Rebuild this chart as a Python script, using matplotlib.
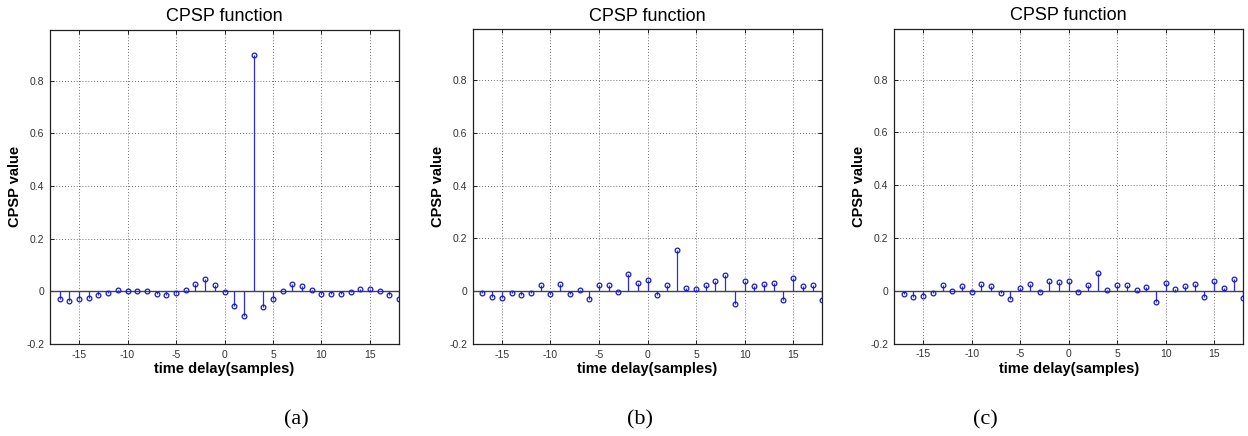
import numpy as np
import matplotlib
matplotlib.use("Agg")
import matplotlib.pyplot as plt

plt.rcParams['font.family'] = ['Liberation Sans', 'DejaVu Sans']
plt.rcParams['axes.unicode_minus'] = False

lags = list(range(-17, 19))

cpsp_a = [-0.028, -0.036, -0.028, -0.024, -0.013, -0.005, 0.005, 0.0, 0.003, 0.0,
          -0.011, -0.015, -0.008, 0.005, 0.027, 0.047, 0.025, -0.004, -0.055, -0.093,
          0.897, -0.060, -0.030, 0.001, 0.027, 0.020, 0.005, -0.009, -0.011, -0.011,
          -0.001, 0.008, 0.010, 0.001, -0.015, -0.028]
cpsp_b = [-0.006, -0.020, -0.024, -0.006, -0.015, -0.006, 0.023, -0.009, 0.029, -0.009,
          0.003, -0.030, 0.023, 0.025, -0.004, 0.067, 0.033, 0.044, -0.013, 0.025,
          0.156, 0.014, 0.008, 0.023, 0.038, 0.061, -0.048, 0.037, 0.020, 0.029,
          0.033, -0.034, 0.051, 0.018, 0.025, -0.034]
cpsp_c = [-0.011, -0.023, -0.019, -0.008, 0.023, 0.000, 0.017, -0.006, 0.027, 0.019,
          -0.010, -0.030, 0.011, 0.027, -0.004, 0.036, 0.033, 0.036, -0.006, 0.023,
          0.069, 0.003, 0.022, 0.023, 0.003, 0.014, -0.043, 0.030, 0.005, 0.019,
          0.027, -0.022, 0.038, 0.009, 0.044, -0.028]

series = [cpsp_a, cpsp_b, cpsp_c]
captions = ['(a)', '(b)', '(c)']
title = 'CPSP function'
xlabel = 'time delay(samples)'
ylabel = 'CPSP value'
xticks = [-15, -10, -5, 0, 5, 10, 15]
yticks = [-0.2, 0, 0.2, 0.4, 0.6, 0.8]
yticklabels = ['-0.2', '0', '0.2', '0.4', '0.6', '0.8']

W, H = 1248, 436
fig = plt.figure(figsize=(W / 100, H / 100), dpi=100)

# axes pixel boxes: left, right, top, bottom
boxes = [(50, 399, 29.7, 344), (472.7, 822.3, 29.3, 344), (894, 1243.3, 28.7, 343.5)]
cap_pos = [(296, 420), (640, 420), (985, 420)]

for vals, box, cap, cp in zip(series, boxes, captions, cap_pos):
    l, r, t, b = box
    ax = fig.add_axes([l / W, (H - b) / H, (r - l) / W, (b - t) / H])
    ml, sl, bl = ax.stem(lags, vals, basefmt=' ')
    plt.setp(sl, color='#2b2bf0', linewidth=0.9)
    plt.setp(ml, marker='o', markersize=3.4, markerfacecolor='none',
             markeredgecolor='#1a1acc', markeredgewidth=0.9)
    ax.axhline(0, color='#444444', linewidth=1.0, zorder=1)
    ax.set_xlim(-18, 18)
    ax.set_ylim(-0.2, 0.993)
    ax.set_xticks(xticks)
    ax.set_xticklabels([str(v) for v in xticks])
    ax.set_yticks(yticks)
    ax.set_yticklabels(yticklabels)
    ax.grid(True, linestyle=(0, (1, 2.5)), color='#444444', linewidth=0.6)
    ax.set_axisbelow(True)
    ax.tick_params(direction='in', length=3, width=0.6, labelsize=7.5,
                   labelcolor='#333333', pad=4, top=True, right=True)
    for s in ax.spines.values():
        s.set_linewidth(0.9)
        s.set_color('#222222')
    ax.set_title(title, fontsize=13, pad=6)
    ax.set_xlabel(xlabel, fontsize=10.5, fontweight='bold', labelpad=2)
    ax.set_ylabel(ylabel, fontsize=10.5, fontweight='bold', labelpad=3)
    fig.text(cp[0] / W, 1 - cp[1] / H, cap, fontsize=16,
             family=['Liberation Serif', 'DejaVu Serif'], ha='center', va='center')

fig.savefig('out.png', dpi=100)
